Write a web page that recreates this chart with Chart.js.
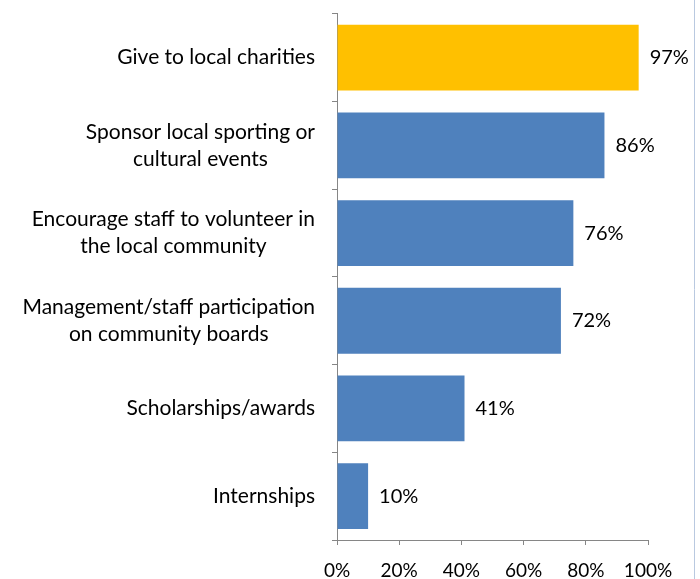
<!DOCTYPE html>
<html>
<head>
<meta charset="utf-8">
<script src="https://cdn.jsdelivr.net/npm/chart.js@4"></script>
<style>
  html, body { margin: 0; padding: 0; background: #fff; }
  #wrap { width: 700px; height: 579px; }
</style>
</head>
<body>
<div id="wrap"><canvas id="myChart" width="700" height="579"></canvas></div>
<script>
var categories = [
  ["Give to local charities"],
  ["Sponsor local sporting or", "cultural events"],
  ["Encourage staff to volunteer in", "the local community"],
  ["Management/staff participation", "on community boards"],
  ["Scholarships/awards"],
  ["Internships"]
];
var values = [97, 86, 76, 72, 41, 10];
var barColors = ['#FFC000', '#4F81BD', '#4F81BD', '#4F81BD', '#4F81BD', '#4F81BD'];
var xTicks = [0, 20, 40, 60, 80, 100];

var fontFamily = 'Lato, "Open Sans", sans-serif';
var axisColor = '#868686';

// category labels: block right-aligned to the axis, lines centered inside the block
var categoryLabels = {
  id: 'categoryLabels',
  afterDraw: function(chart) {
    var ctx = chart.ctx;
    var yScale = chart.scales.y;
    ctx.save();
    ctx.font = '21px ' + fontFamily;
    ctx.fillStyle = '#000';
    ctx.textAlign = 'center';
    ctx.textBaseline = 'middle';
    var lineH = 27;
    categories.forEach(function(lines, i) {
      var cy = yScale.getPixelForValue(i);
      var maxW = 0;
      lines.forEach(function(l) { maxW = Math.max(maxW, ctx.measureText(l).width); });
      var cx = 315 - maxW / 2;
      var startY = cy - (lines.length - 1) * lineH / 2;
      lines.forEach(function(l, j) {
        ctx.fillText(l, cx, startY + j * lineH);
      });
    });
    ctx.restore();
  }
};

// percentage labels after each bar end
var valueLabels = {
  id: 'valueLabels',
  afterDatasetsDraw: function(chart) {
    var ctx = chart.ctx;
    var meta = chart.getDatasetMeta(0);
    ctx.save();
    ctx.font = '20px ' + fontFamily;
    ctx.fillStyle = '#000';
    ctx.textAlign = 'left';
    ctx.textBaseline = 'middle';
    meta.data.forEach(function(bar, i) {
      ctx.fillText(values[i] + '%', bar.x + 11, bar.y);
    });
    ctx.restore();
  }
};

// thin frame line on the right edge
var rightEdge = {
  id: 'rightEdge',
  afterDraw: function(chart) {
    var ctx = chart.ctx;
    ctx.save();
    ctx.strokeStyle = '#B9C9E0';
    ctx.lineWidth = 1;
    ctx.beginPath();
    ctx.moveTo(694.5, 0);
    ctx.lineTo(694.5, 579);
    ctx.stroke();
    ctx.restore();
  }
};

new Chart(document.getElementById('myChart'), {
  type: 'bar',
  data: {
    labels: categories,
    datasets: [{
      data: values,
      backgroundColor: barColors,
      borderWidth: 0,
      categoryPercentage: 1.0,
      barPercentage: 0.75
    }]
  },
  options: {
    indexAxis: 'y',
    responsive: false,
    animation: false,
    layout: { padding: { top: 11, right: 52, left: 0, bottom: 0 } },
    plugins: {
      legend: { display: false },
      tooltip: { enabled: false }
    },
    scales: {
      x: {
        min: 0,
        max: 100,
        afterBuildTicks: function(scale) {
          scale.ticks = xTicks.map(function(v) { return { value: v }; });
        },
        afterFit: function(scale) { scale.height = 39; },
        border: { color: axisColor, width: 1 },
        grid: { drawOnChartArea: false, drawTicks: true, tickLength: 5, color: axisColor },
        ticks: {
          color: '#000',
          padding: 14,
          maxRotation: 0,
          font: { family: fontFamily, size: 19 },
          callback: function(v) { return v + '%'; }
        }
      },
      y: {
        afterFit: function(scale) { scale.width = 337; },
        border: { color: axisColor, width: 1 },
        grid: { drawOnChartArea: false, drawTicks: true, tickLength: 5, color: axisColor, offset: true },
        ticks: {
          color: 'rgba(0,0,0,0)',
          font: { family: fontFamily, size: 18 }
        }
      }
    }
  },
  plugins: [categoryLabels, valueLabels, rightEdge]
});
</script>
</body>
</html>
